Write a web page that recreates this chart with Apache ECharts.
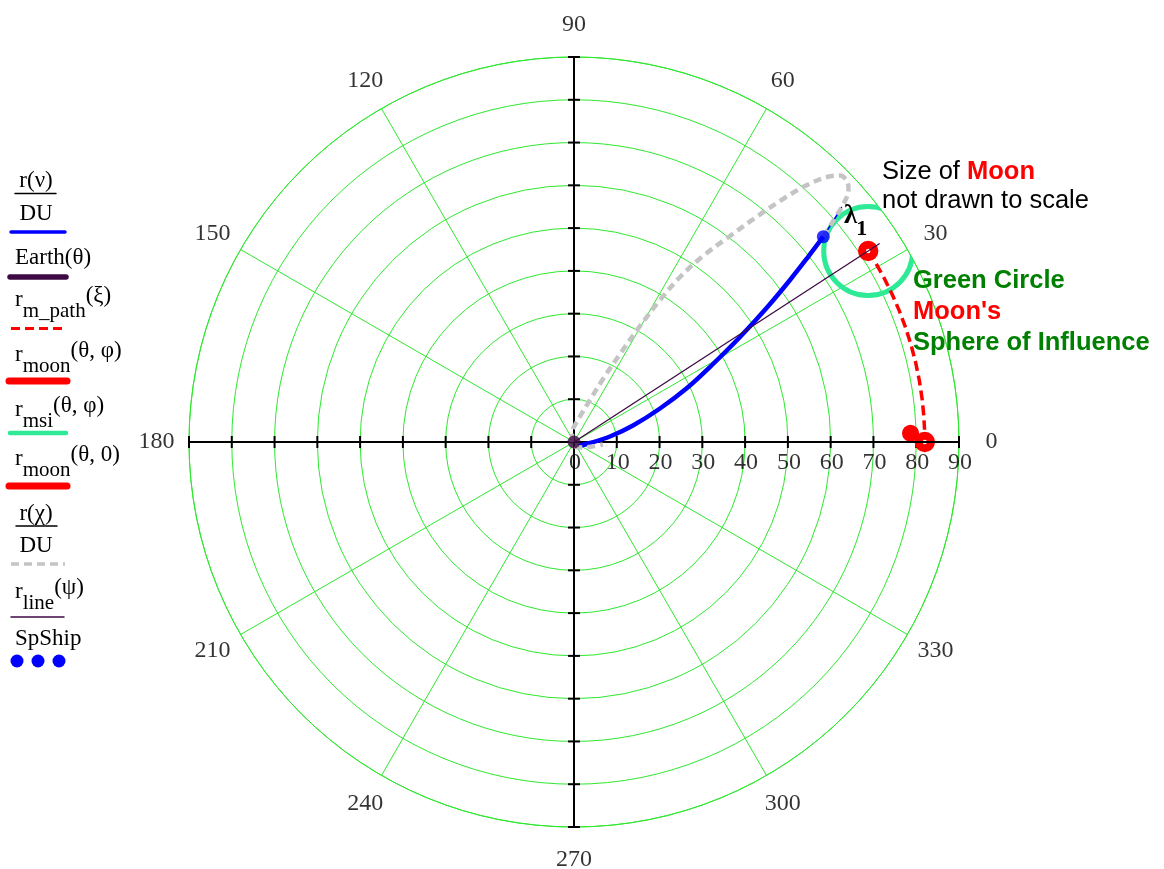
<!DOCTYPE html>
<html>
<head>
<meta charset="utf-8">
<script src="https://cdn.jsdelivr.net/npm/echarts@6/dist/echarts.min.js"></script>
<style>
  html, body { margin: 0; padding: 0; background: #ffffff; }
  #c { width: 1164px; height: 869px; }
</style>
</head>
<body>
<div id="c"></div>
<script>
// ---- tick labels ----
const angleTicks = [0, 30, 60, 90, 120, 150, 180, 210, 240, 270, 300, 330];
const radiusTicks = [0, 10, 20, 30, 40, 50, 60, 70, 80, 90];
const axisAngles = [0, 90, 180, 270];

// ---- traces, each point is [radius (DU), angle (deg)] ----
// r(nu)/DU : transfer trajectory up to the spacecraft
const trajectory = [
  [1.32, 315], [3.75, 356.4], [8.51, 8.69], [14.32, 15.62], [21.57, 21.28], [29.28, 25.54],
  [37.26, 29.30], [45.92, 32.31], [54.99, 34.87], [63.12, 36.87], [69.73, 38.33], [75.50, 39.47]
];
// r(nu)/DU beyond the spacecraft (mostly hidden under the conic)
const trajectoryTail = [[75.50, 39.47], [78.30, 40.16], [81.21, 40.80], [83.3, 41.3]];
// r(chi)/DU : rest of the conic, apogee and return branch
const conic = [
  [75.50, 39.47], [78.30, 40.16], [81.21, 40.80], [84.29, 41.51], [87.11, 42.55], [88.29, 43.71],
  [88.02, 45.05], [85.65, 46.33], [81.09, 47.80], [74.93, 49.30], [67.89, 50.94], [60.40, 52.86],
  [52.91, 55.26], [45.85, 57.28], [38.81, 58.80], [31.20, 60.36], [23.21, 62.40], [16.21, 65.28],
  [10.51, 69.15], [5.23, 79.7], [2.16, 102.5], [0.52, 153.4], [1.08, 282.5], [2.27, 325.5],
  [4.34, 346.0], [6.80, 355.1]
];
// r_m_path(xi) : Moon's path along its orbit
const moonPath = [
  [82, 30.5], [82, 28], [82, 25], [82, 22], [82, 19], [82, 16],
  [82, 13], [82, 10], [82, 7], [82, 4.5], [82, 2]
];
// r_line(psi) : Earth-Moon line
const moonLine = [[0, 33], [85.2, 33]];

// ---- bodies ----
const earthPos = [[0, 0]];
// [radius, angle, body radius in DU]
const moonAtPhi = [[82, 33, 1.45]];
const moonMark = [[78.7, 1.5, 2.0]];
const moonSOI = [[82, 33, 10.4]];
const moonAtZero = [[82, 0, 1.45]];
const spaceship = [[75.5, 39.47]];

// ---- styling ----
const serif = "'Liberation Serif', 'Times New Roman', serif";
const sans = "'Liberation Sans', Arial, sans-serif";
const gridGreen = '#2ee82e';
const soiGreen = '#2eea96';
const earthPurple = '#3e0a44';
const grey = '#c4c4c4';

const tickData = [];
axisAngles.forEach(a => radiusTicks.forEach(r => { if (r > 0) tickData.push([r, a]); }));

function bodySeries(data, style, clip) {
  return {
    type: 'custom', coordinateSystem: 'polar', silent: true, clip: clip !== false,
    data: data,
    renderItem(params, api) {
      const c = api.coord([api.value(0), api.value(1)]);
      const o = api.coord([0, 0]);
      const e = api.coord([api.value(2), 0]);
      const rad = Math.hypot(e[0] - o[0], e[1] - o[1]);
      return { type: 'circle', shape: { cx: c[0], cy: c[1], r: rad }, style: style };
    }
  };
}

function lineSeries(data, color, width, dash, smooth) {
  return {
    type: 'line', coordinateSystem: 'polar', silent: true, symbol: 'none',
    smooth: smooth || false, data: data,
    lineStyle: { color: color, width: width, type: dash || 'solid', cap: 'butt' }
  };
}

// ---- legend (Mathcad style) ----
const mctx = document.createElement('canvas').getContext('2d');
function tw(text, size, family, weight) {
  mctx.font = (weight || 'normal') + ' ' + size + 'px ' + family;
  return mctx.measureText(text).width;
}
function text(x, y, str, size, opts) {
  return {
    type: 'text', x: x, y: y, silent: true, z: 100,
    style: Object.assign({
      text: str, fontSize: size, fontFamily: serif, fill: '#000',
      align: 'left', verticalAlign: 'middle', textAlign: 'left', textVerticalAlign: 'middle'
    }, opts || {})
  };
}
function subscripted(x, y, base, sub, args) {
  const w1 = tw(base, 23, serif);
  const w2 = tw(sub, 21, serif);
  return [
    text(x, y, base, 23),
    text(x + w1, y + 11, sub, 21),
    text(x + w1 + w2, y - 4, args, 23)
  ];
}
function seg(x1, x2, y, color, width, dash) {
  return {
    type: 'line', silent: true, z: 100,
    shape: { x1: x1, y1: y, x2: x2, y2: y },
    style: { stroke: color, lineWidth: width, lineDash: dash || null, lineCap: dash ? 'butt' : 'round' }
  };
}
function centered(cx, y, str, size) {
  return text(cx, y, str, size, { align: 'center', textAlign: 'center' });
}

const legend = [].concat(
  [centered(36, 181, 'r(\u03BD)', 23), seg(15, 56, 193.5, '#000', 1.5), centered(36, 214, 'DU', 23),
   seg(11, 65, 232, '#0000ff', 3.5)],
  [text(15, 258, 'Earth(\u03B8)', 23), seg(10, 66, 277, earthPurple, 5.5)],
  subscripted(15, 300, 'r', 'm_path', '(\u03BE)'), [seg(11, 65, 328.5, '#ff0000', 3, [9, 5])],
  subscripted(15, 355, 'r', 'moon', '(\u03B8, \u03C6)'), [seg(9, 67, 381, '#ff0000', 7)],
  subscripted(15, 410, 'r', 'msi', '(\u03B8, \u03C6)'), [seg(10, 66, 433, soiGreen, 4.5)],
  subscripted(15, 459, 'r', 'moon', '(\u03B8, 0)'), [seg(9, 67, 486, '#ff0000', 7)],
  [centered(36, 514, 'r(\u03C7)', 23), seg(16, 57, 526, '#000', 1.5), centered(36, 546, 'DU', 23),
   seg(11, 65, 564, grey, 3.5, [8, 5])],
  subscripted(15, 592, 'r', 'line', '(\u03C8)'), [seg(11, 64, 617, earthPurple, 1.5)],
  [text(15, 639, 'SpShip', 23)],
  [17, 38, 59].map(x => ({ type: 'circle', silent: true, z: 100, shape: { cx: x, cy: 661, r: 6.5 }, style: { fill: '#0000ff' } }))
);

// ---- annotations ----
const noteSize = 25.5;
const wSize = tw('Size of ', noteSize, sans);
const wL = tw('\u03BB', 27, serif, 'bold');
const notes = [
  text(882, 172, 'Size of ', noteSize, { fontFamily: sans }),
  text(882 + wSize, 172, 'Moon', noteSize, { fontFamily: sans, fontWeight: 'bold', fill: '#ff0000' }),
  text(882, 201, 'not drawn to scale', noteSize, { fontFamily: sans }),
  text(913, 281, 'Green Circle', noteSize, { fontFamily: sans, fontWeight: 'bold', fill: '#008000' }),
  text(913, 312, "Moon's", noteSize, { fontFamily: sans, fontWeight: 'bold', fill: '#ff0000' }),
  text(913, 343, 'Sphere of Influence', noteSize, { fontFamily: sans, fontWeight: 'bold', fill: '#008000' }),
  text(844, 216, '\u03BB', 27, { fontWeight: 'bold' }),
  text(844 + wL - 1, 229, '1', 22, { fontWeight: 'bold' })
];

const option = {
  animation: false,
  backgroundColor: '#ffffff',
  polar: { center: [574, 442], radius: 385 },
  angleAxis: {
    type: 'value', min: 0, max: 360, interval: 30, startAngle: 0, clockwise: false,
    axisLine: { show: true, lineStyle: { color: gridGreen, width: 1 } },
    axisTick: { show: false }, axisLabel: { show: false },
    splitLine: { show: true, lineStyle: { color: gridGreen, width: 1 } }
  },
  radiusAxis: {
    type: 'value', min: 0, max: 90, interval: 10,
    axisLine: { show: false }, axisTick: { show: false }, axisLabel: { show: false },
    splitLine: { show: true, lineStyle: { color: gridGreen, width: 1 } }
  },
  graphic: { elements: legend.concat(notes) },
  series: [
    // black cross axes
    lineSeries([[90, 180], [90, 0]], '#000', 2),
    lineSeries([[90, 90], [90, 270]], '#000', 2),
    {
      type: 'custom', coordinateSystem: 'polar', silent: true, clip: false, data: tickData,
      renderItem(params, api) {
        const p = api.coord([api.value(0), api.value(1)]);
        const o = api.coord([0, 0]);
        const d = Math.hypot(p[0] - o[0], p[1] - o[1]);
        const ux = (p[0] - o[0]) / d, uy = (p[1] - o[1]) / d;
        const h = 6;
        return { type: 'line', shape: { x1: p[0] - uy * h, y1: p[1] + ux * h, x2: p[0] + uy * h, y2: p[1] - ux * h },
                 style: { stroke: '#000', lineWidth: 2 } };
      }
    },
    // angle labels
    {
      type: 'scatter', coordinateSystem: 'polar', silent: true, clip: false, symbolSize: 1,
      itemStyle: { color: 'rgba(0,0,0,0)' },
      label: { show: true, position: 'inside', formatter: p => p.name, fontFamily: serif, fontSize: 24, color: '#000' },
      data: angleTicks.map(a => ({ name: String(a), value: [97.6, a] }))
    },
    // radius labels
    {
      type: 'scatter', coordinateSystem: 'polar', silent: true, clip: false, symbolSize: 1,
      itemStyle: { color: 'rgba(0,0,0,0)' },
      label: { show: true, position: 'inside', offset: [1, 21], formatter: p => p.name, fontFamily: serif, fontSize: 24, color: '#000' },
      data: radiusTicks.map(r => ({ name: String(r), value: [r, 0] }))
    },
    // r(nu)/DU
    lineSeries(trajectory, '#0000ff', 4.5, null, 0.35),
    lineSeries(trajectoryTail, '#0000ff', 1.5, null, 0.35),
    // Moon's path
    lineSeries(moonPath, '#ff0000', 3.5, [10, 5]),
    // Moon at phi and marker
    bodySeries(moonMark, { fill: '#ff0000', stroke: null }),
    bodySeries(moonAtPhi, { fill: null, stroke: '#ff0000', lineWidth: 8 }),
    // sphere of influence
    bodySeries(moonSOI, { fill: null, stroke: soiGreen, lineWidth: 5 }),
    // Moon at 0
    bodySeries(moonAtZero, { fill: null, stroke: '#ff0000', lineWidth: 8 }),
    // r(chi)/DU
    lineSeries(conic, grey, 4.5, [8, 5], 0.35),
    // Earth
    {
      type: 'scatter', coordinateSystem: 'polar', silent: true, clip: false, symbolSize: 13, z: 4,
      itemStyle: { color: earthPurple }, data: earthPos
    },
    // Earth-Moon line
    lineSeries(moonLine, earthPurple, 1.3),
    // spacecraft
    {
      type: 'scatter', coordinateSystem: 'polar', silent: true, symbolSize: 13, z: 4,
      itemStyle: { color: '#0000ff' }, data: spaceship
    }
  ]
};

const chart = echarts.init(document.getElementById('c'), null, { renderer: 'canvas' });
chart.setOption(option);
</script>
</body>
</html>
